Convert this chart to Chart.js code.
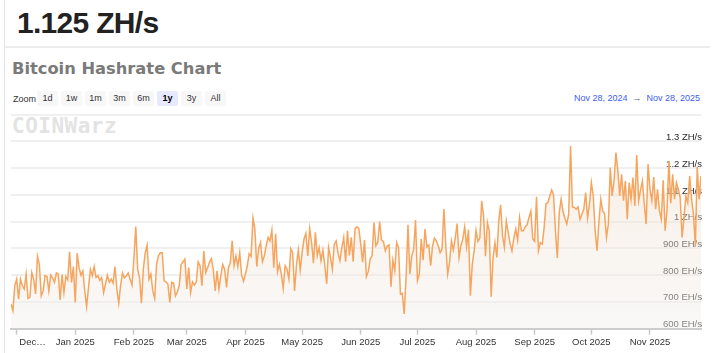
<!DOCTYPE html>
<html>
<head>
<meta charset="utf-8">
<script src="https://cdn.jsdelivr.net/npm/chart.js@4.4.1/dist/chart.umd.min.js"></script>
<style>
body{margin:0;background:#fff;width:725px;height:353px;overflow:hidden;position:relative;font-family:"Liberation Sans",Arial,sans-serif;}
.frame{position:absolute;left:4px;top:0;height:353px;border-left:1px solid #e4e4e4;}
.big{position:absolute;left:17px;top:6px;font-size:30px;font-weight:bold;color:#222;letter-spacing:-0.7px;}
.sep{position:absolute;left:4px;top:46px;width:706px;border-top:2px solid #ececec;}
.title{position:absolute;left:12px;top:59px;font-family:"DejaVu Sans",sans-serif;font-weight:bold;font-size:16.3px;color:#7a7a7a;}
.zl{position:absolute;left:13px;top:94px;font-size:9px;color:#333;}
.btn{position:absolute;top:91px;width:21px;height:15px;line-height:15px;background:#f7f7f7;border-radius:2px;text-align:center;font-size:9px;color:#333;}
.btn.on{background:#e6e9ff;font-weight:bold;color:#000;}
.range{position:absolute;right:25px;top:93px;font-size:9px;color:#4060ee;}
.range span{color:#666;margin:0 5px;}
.wm{position:absolute;left:12px;top:114px;font-family:"DejaVu Sans Mono",monospace;font-weight:bold;font-size:21px;color:#e3e3e3;letter-spacing:0.5px;}
#c{position:absolute;left:0;top:108px;}
</style>
</head>
<body>
<div class="frame"></div>
<div class="big">1.125 ZH/s</div>
<div class="sep"></div>
<div class="title">Bitcoin Hashrate Chart</div>
<div class="zl">Zoom</div>
<div class="btn" style="left:37px">1d</div>
<div class="btn" style="left:61px">1w</div>
<div class="btn" style="left:85px">1m</div>
<div class="btn" style="left:109px">3m</div>
<div class="btn" style="left:133px">6m</div>
<div class="btn on" style="left:157px">1y</div>
<div class="btn" style="left:181px">3y</div>
<div class="btn" style="left:205px">All</div>
<div class="range">Nov 28, 2024<span>→</span>Nov 28, 2025</div>
<div class="wm">COINWarz</div>
<canvas id="c" width="725" height="245"></canvas>
<script>
// daily hashrate in EH/s, Nov 28 2024 -> Nov 28 2025
const startDate = '2024-11-28';
const hashrateNovFeb = [
  692, 667, 760, 785, 710, 785, 760, 748, 804, 713,
  717, 810, 785, 730, 870, 840, 722, 741, 798, 795,
  741, 800, 790, 773, 808, 804, 707, 802, 735, 795,
  782, 887, 773, 832, 698, 882, 828, 800, 816, 741,
  682, 754, 822, 798, 832, 791, 798, 780, 791, 735,
  767, 800, 773, 785, 770, 832, 748, 695, 763, 808,
  790, 798, 808, 785, 763, 860, 982, 822, 791, 695,
  822, 884, 912, 785, 804, 741, 713, 840, 872, 884,
  884, 779, 775, 767, 698, 773, 770, 722, 737, 760,
  840, 850, 860
];
const hashrateMarMay = [
  748, 828, 735, 775, 763, 773, 850, 835, 760, 890,
  810, 828, 848, 862, 822, 741, 816, 748, 798, 840,
  822, 754, 828, 845, 928, 835, 872, 832, 884, 800,
  777, 804, 835, 880, 870, 1013, 972, 832, 899, 922,
  850, 872, 910, 941, 928, 969, 828, 955, 812, 840,
  804, 750, 835, 822, 785, 899, 884, 741, 837, 894,
  819, 884, 935, 956, 872, 974, 922, 845, 960, 872,
  903, 854, 894, 835, 767, 903, 866, 822, 916, 928,
  882, 854, 903, 941, 850, 966, 874, 941, 850, 974,
  981, 974
];
const hashrateJunAug = [
  916, 848, 931, 794, 814, 860, 872, 997, 910, 922,
  1000, 931, 926, 891, 910, 913, 757, 856, 816, 922,
  903, 729, 732, 655, 792, 988, 804, 872, 896, 1006,
  779, 804, 935, 856, 972, 906, 913, 835, 910, 938,
  928, 910, 884, 897, 1047, 910, 804, 848, 928, 894,
  938, 993, 866, 910, 935, 981, 906, 970, 723, 841,
  891, 968, 926, 938, 1078, 1022, 871, 997, 966, 719,
  864, 922, 866, 1003, 1063, 947, 904, 1003, 960, 918,
  891, 938, 972, 931, 1016, 966, 966, 981, 988, 1016,
  1040, 935
];
const hashrateSepNov = [
  926, 1093, 891, 922, 916, 976, 1068, 1071, 1096, 1118,
  1100, 966, 864, 1034, 1084, 1038, 1013, 991, 1028, 1283,
  1055, 1053, 1047, 1055, 1009, 1028, 1047, 1109, 1013, 1065,
  1146, 1096, 966, 891, 1000, 1084, 1040, 1030, 941, 991,
  1202, 1096, 1152, 1258, 1192, 1096, 1177, 1078, 1152, 1009,
  1146, 1084, 1165, 1059, 1249, 1078, 1118, 1152, 1065, 991,
  1215, 1121, 1078, 1167, 1047, 1121, 1040, 1009, 1155, 966,
  1040, 1227, 1069, 1177, 1084, 1146, 1121, 1090, 941, 1016,
  1096, 1071, 1171, 1084, 1028, 910, 1205, 1084, 1171
];
const monthStarts = ['2024-12-01','2025-01-01','2025-02-01','2025-03-01','2025-04-01','2025-05-01',
  '2025-06-01','2025-07-01','2025-08-01','2025-09-01','2025-10-01','2025-11-01'];
const monthLabels = ['            Dec\u2026','Jan 2025','Feb 2025','Mar 2025','Apr 2025','May 2025',
  'Jun 2025','Jul 2025','Aug 2025','Sep 2025','Oct 2025','Nov 2025'];

const hashrate = hashrateNovFeb.concat(hashrateMarMay, hashrateJunAug, hashrateSepNov);
const t0 = Date.parse(startDate);
const tickDays = monthStarts.map(d => Math.round((Date.parse(d) - t0) / 86400000));

const axisFont = {family: 'Liberation Sans', size: 9.5};

new Chart(document.getElementById('c'), {
    type: 'line',
    data: {
        datasets: [{
            data: hashrate.map((v, i) => ({x: i, y: v})),
            borderColor: '#f6a55e',
            borderWidth: 1.5,
            pointRadius: 0,
            tension: 0,
            fill: 'start',
            backgroundColor: function(c) {
                const a = c.chart.chartArea;
                if (!a) return 'rgba(0,0,0,0)';
                const g = c.chart.ctx.createLinearGradient(0, a.top, 0, a.bottom);
                g.addColorStop(0, 'rgba(240,215,190,0.4)');
                g.addColorStop(1, 'rgba(242,240,238,0.45)');
                return g;
            }
        }]
    },
    options: {
        responsive: false,
        animation: false,
        layout: {padding: {left: 11, right: 22, top: 6, bottom: 3}},
        plugins: {legend: {display: false}, tooltip: {enabled: false}},
        scales: {
            x: {
                type: 'linear',
                min: 0,
                max: 365,
                afterBuildTicks: s => { s.ticks = tickDays.map(v => ({value: v})); },
                // first label is padded with spaces, don't let it push the plot inward
                afterFit: s => { s.paddingLeft = 0; s.paddingRight = 0; },
                ticks: {
                    autoSkip: false,
                    maxRotation: 0,
                    color: '#333',
                    font: axisFont,
                    padding: 2,
                    callback: (v, i) => monthLabels[i]
                },
                grid: {drawOnChartArea: false, drawTicks: true, tickLength: 6, tickColor: '#c8c8c8', tickWidth: 1.5},
                border: {color: '#cccccc', width: 2}
            },
            y: {
                position: 'right',
                min: 600,
                max: 1400,
                ticks: {
                    stepSize: 100,
                    mirror: true,
                    padding: 1,
                    labelOffset: -4,
                    color: '#2a2a2a',
                    font: axisFont,
                    callback: v => v >= 1400 ? '' : (v >= 1000 ? (v / 1000) + ' ZH/s' : v + ' EH/s')
                },
                grid: {color: '#f0f0f0', lineWidth: 2, drawTicks: false},
                border: {display: false}
            }
        }
    }
});
</script>
</body>
</html>
